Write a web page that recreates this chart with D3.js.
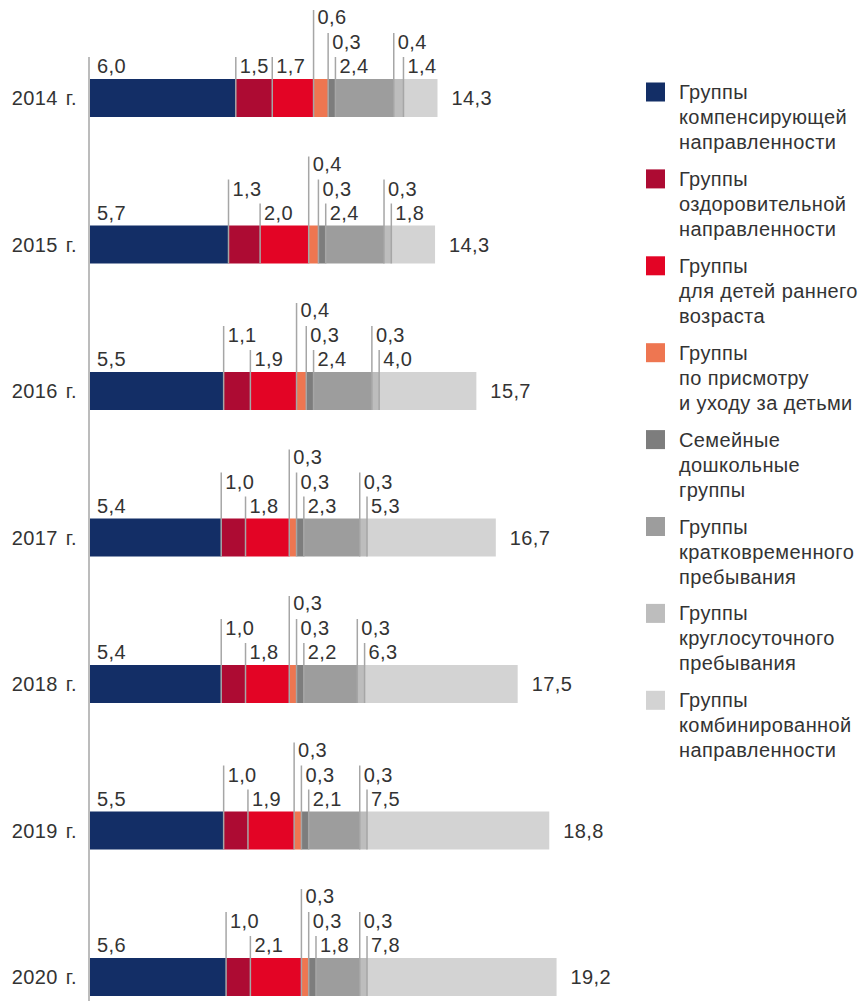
<!DOCTYPE html>
<html>
  <head>
    <meta charset="UTF-8">
    <script src="https://d3js.org/d3.v7.min.js"></script>
    <style>
      body { margin: 0; background: #fff; }
      text { font-family: "Liberation Sans", Arial, sans-serif; fill: #333; letter-spacing: 0.4px; }
      .leader { stroke: #a6a6a6; stroke-width: 1.5; }
    </style>
  </head>
  <body>
    <svg id="svg" width="861" height="1001"></svg>
    <script>
      // data
      const years = ["2014 г.", "2015 г.", "2016 г.", "2017 г.", "2018 г.", "2019 г.", "2020 г."];
      const seriesNames = [
        ["Группы", "компенсирующей", "направленности"],
        ["Группы", "оздоровительной", "направленности"],
        ["Группы", "для детей раннего", "возраста"],
        ["Группы", "по присмотру", "и уходу за детьми"],
        ["Семейные", "дошкольные", "группы"],
        ["Группы", "кратковременного", "пребывания"],
        ["Группы", "круглосуточного", "пребывания"],
        ["Группы", "комбинированной", "направленности"]
      ];
      const compensating = [6.0, 5.7, 5.5, 5.4, 5.4, 5.5, 5.6];
      const health       = [1.5, 1.3, 1.1, 1.0, 1.0, 1.0, 1.0];
      const earlyAge     = [1.7, 2.0, 1.9, 1.8, 1.8, 1.9, 2.1];
      const care         = [0.6, 0.4, 0.4, 0.3, 0.3, 0.3, 0.3];
      const family       = [0.3, 0.3, 0.3, 0.3, 0.3, 0.3, 0.3];
      const shortStay    = [2.4, 2.4, 2.4, 2.3, 2.2, 2.1, 1.8];
      const roundClock   = [0.4, 0.3, 0.3, 0.3, 0.3, 0.3, 0.3];
      const combined     = [1.4, 1.8, 4.0, 5.3, 6.3, 7.5, 7.8];
      const totals       = [14.3, 14.3, 15.7, 16.7, 17.5, 18.8, 19.2];

      const series = [compensating, health, earlyAge, care, family, shortStay, roundClock, combined];
      const colors = ["#132e66", "#ad0b33", "#e30425", "#ee7651", "#7d7d7d", "#9d9d9d", "#bdbdbd", "#d3d3d3"];

      const svg = d3.select("svg#svg");
      const fmt = v => d3.format(".1f")(v).replace(".", ",");

      // scales
      const x = d3.scaleLinear().domain([0, 20]).range([90, 576]);
      const y = d3.scalePoint().domain(years).range([98, 977]);
      const barH = 38;

      // label row for each segment (0 = just above bar)
      const rowOf = (yi, si) => {
        if (si === 3) return 2;
        if (si === 4 || si === 6) return 1;
        if (si === 1 && yi > 0) return 1;
        return 0;
      };
      const rowBase = [6, 30, 55];
      const rowTop = [22, 46, 69];

      // axis line
      svg.append("line")
        .attr("class", "leader")
        .attr("x1", x(0) - 1).attr("x2", x(0) - 1)
        .attr("y1", y(years[0]) - barH / 2 - rowTop[0])
        .attr("y2", 1001);

      years.forEach((yr, yi) => {
        const top = y(yr) - barH / 2;
        let acc = 0;
        const g = svg.append("g");
        const segs = series.map((s, si) => {
          const d = { si: si, v: s[yi], x0: acc };
          acc += s[yi];
          return d;
        });

        g.selectAll("rect")
          .data(segs)
          .enter()
          .append("rect")
          .attr("x", d => x(d.x0))
          .attr("y", top)
          .attr("width", d => x(d.x0 + d.v) - x(d.x0))
          .attr("height", barH)
          .attr("fill", d => colors[d.si]);

        // leader lines (first segment uses the axis line)
        g.selectAll("line")
          .data(segs.filter(d => d.si > 0))
          .enter()
          .append("line")
          .attr("class", "leader")
          .attr("x1", d => x(d.x0)).attr("x2", d => x(d.x0))
          .attr("y1", d => top - rowTop[rowOf(yi, d.si)])
          .attr("y2", top + barH);

        g.selectAll("text.val")
          .data(segs)
          .enter()
          .append("text")
          .attr("class", "val")
          .attr("x", d => x(d.x0) + (d.si === 0 ? 7 : 4))
          .attr("y", d => top - rowBase[rowOf(yi, d.si)])
          .style("font-size", "20px")
          .text(d => fmt(d.v));

        // total
        g.append("text")
          .attr("x", x(acc) + 14)
          .attr("y", y(yr))
          .attr("dy", "0.35em")
          .style("font-size", "20px")
          .text(fmt(totals[yi]));

        // year label
        g.append("text")
          .attr("x", 77)
          .attr("y", y(yr))
          .attr("dy", "0.35em")
          .attr("text-anchor", "end")
          .style("font-size", "20px")
          .style("word-spacing", "2px")
          .text(yr);
      });

      // legend
      const legend = svg.append("g").attr("transform", "translate(646,0)");
      seriesNames.forEach((lines, i) => {
        const cy = 92 + i * 86.9;
        legend.append("rect")
          .attr("x", 0).attr("y", cy - 9.5)
          .attr("width", 19).attr("height", 19)
          .attr("fill", colors[i]);
        const t = legend.append("text")
          .attr("x", 33).attr("y", cy)
          .style("font-size", "20px");
        lines.forEach((l, li) => {
          t.append("tspan").attr("x", 33).attr("dy", li === 0 ? "0.35em" : "25px").text(l);
        });
      });
    </script>
  </body>
</html>
